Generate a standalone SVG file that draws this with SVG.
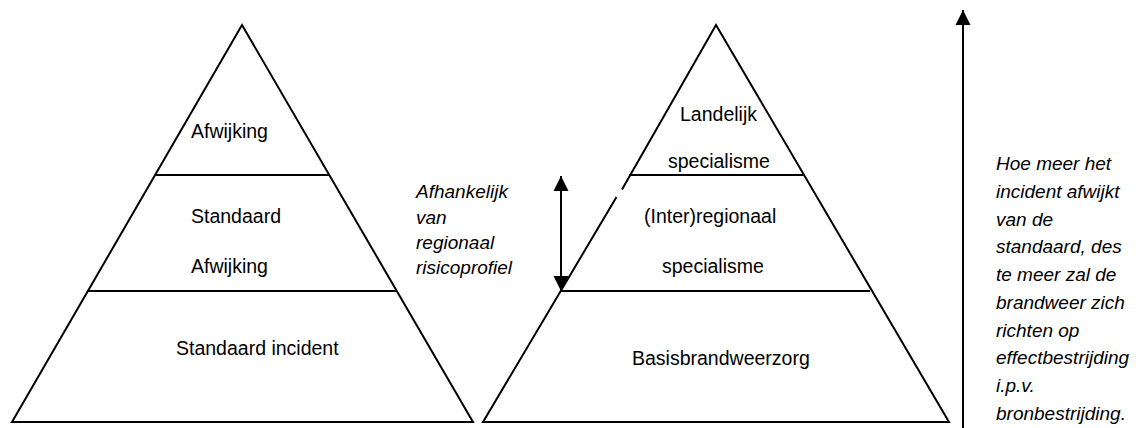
<svg xmlns="http://www.w3.org/2000/svg" width="1140" height="428" viewBox="0 0 1140 428">
<defs>
<marker id="ah" markerUnits="userSpaceOnUse" markerWidth="16" markerHeight="16" viewBox="0 0 16 16" refX="15" refY="8" orient="auto-start-reverse">
<path d="M0,0.5 L15,8 L0,15.5 z" fill="#000"/>
</marker>
<style>
.shape{fill:none;stroke:#000;stroke-width:2}
.lbl{font-family:"Liberation Sans",Arial,sans-serif;font-size:19.5px;fill:#000}
.note{font-family:"Liberation Sans",Arial,sans-serif;font-size:19px;font-style:italic;fill:#000}
.conn{stroke:#000;stroke-width:2;fill:none}
</style>
</defs>
<rect width="1140" height="428" fill="#fff"/>
<g id="pyramid-left">
<path class="shape" d="M242,25 L12,422 L473,422 Z"/>
<line class="shape" x1="155" y1="175" x2="329" y2="175"/>
<line class="shape" x1="88" y1="291" x2="396" y2="291"/>
<text class="lbl" x="191" y="138">Afwijking</text>
<text class="lbl" x="191" y="223">Standaard</text>
<text class="lbl" x="191" y="273">Afwijking</text>
<text class="lbl" x="176" y="355">Standaard incident</text>
</g>
<g id="pyramid-right">
<path class="shape" d="M622,189.5 L716,25 L949,422 L483,422 L616.5,197"/>
<line class="shape" x1="629" y1="175" x2="803" y2="175"/>
<line class="shape" x1="561" y1="291" x2="870" y2="291"/>
<text class="lbl" x="680" y="121">Landelijk</text>
<text class="lbl" x="668" y="168">specialisme</text>
<text class="lbl" x="644" y="223">(Inter)regionaal</text>
<text class="lbl" x="662" y="273">specialisme</text>
<text class="lbl" x="632" y="365">Basisbrandweerzorg</text>
</g>
<g id="note-regionaal">
<text class="note" x="416" y="198">Afhankelijk</text>
<text class="note" x="416" y="223.5">van</text>
<text class="note" x="416" y="249">regionaal</text>
<text class="note" x="416" y="274">risicoprofiel</text>
</g>
<g id="note-afwijking">
<text class="note" x="996" y="170">Hoe meer het</text>
<text class="note" x="996" y="197.8">incident afwijkt</text>
<text class="note" x="996" y="225.6">van de</text>
<text class="note" x="996" y="253.3">standaard, des</text>
<text class="note" x="996" y="281.1">te meer zal de</text>
<text class="note" x="996" y="308.9">brandweer zich</text>
<text class="note" x="996" y="336.7">richten op</text>
<text class="note" x="996" y="364.4">effectbestrijding</text>
<text class="note" x="996" y="392.2">i.p.v.</text>
<text class="note" x="996" y="420">bronbestrijding.</text>
</g>
<g id="connectors">
<line class="conn" x1="561" y1="176" x2="561" y2="291" marker-start="url(#ah)" marker-end="url(#ah)"/>
<line class="conn" x1="963" y1="428" x2="963" y2="10" marker-end="url(#ah)"/>
</g>
</svg>
